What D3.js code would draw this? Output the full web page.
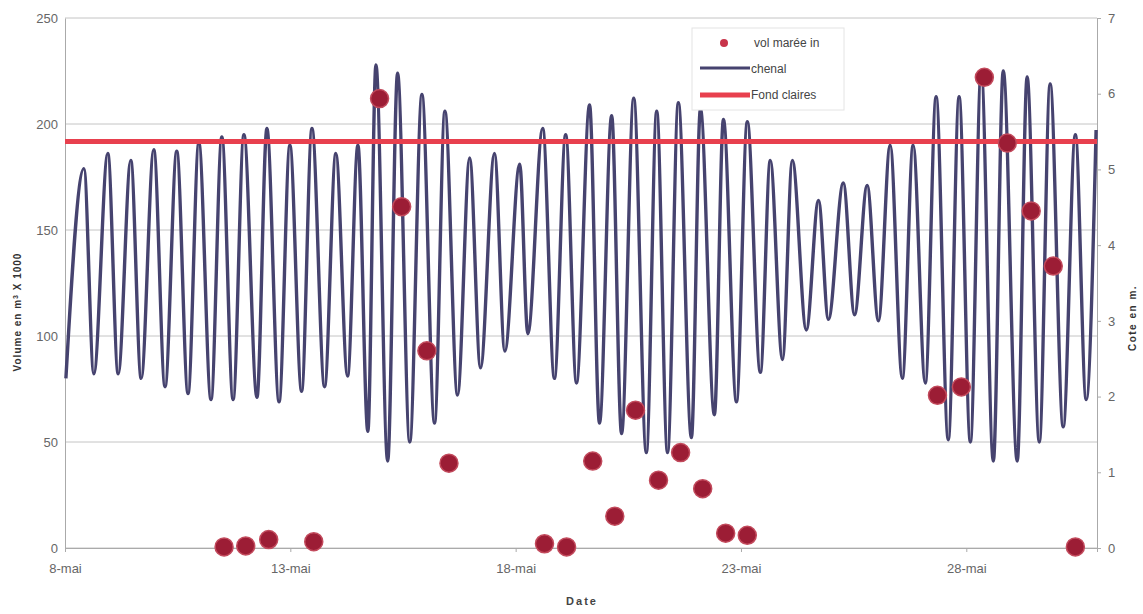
<!DOCTYPE html>
<html>
<head>
<meta charset="utf-8">
<script src="https://cdn.jsdelivr.net/npm/d3@7"></script>
<style>
  body { margin: 0; background: #fff; }
  text { font-family: "Liberation Sans", Arial, sans-serif; }
</style>
</head>
<body>
<div id="chart"></div>
<script>
// jour du mois (mai) des pleines et basses mers
const chenalDays = [
  8.02, 8.42, 8.64, 8.95, 9.18, 9.46, 9.69, 9.97, 10.22, 10.48, 10.73, 10.97,
  11.24, 11.48, 11.73, 11.97, 12.26, 12.48, 12.75, 12.99, 13.25, 13.48, 13.76,
  14.01, 14.27, 14.50, 14.72, 14.90, 15.16, 15.38, 15.65, 15.92, 16.20, 16.43,
  16.71, 16.98, 17.22, 17.53, 17.76, 18.09, 18.27, 18.60, 18.86, 19.11, 19.35,
  19.64, 19.86, 20.13, 20.35, 20.62, 20.90, 21.13, 21.37, 21.61, 21.90, 22.10,
  22.41, 22.61, 22.90, 23.14, 23.43, 23.65, 23.92, 24.14, 24.45, 24.72, 24.94,
  25.27, 25.52, 25.80, 26.05, 26.31, 26.58, 26.82, 27.09, 27.33, 27.60, 27.84,
  28.09, 28.33, 28.60, 28.82, 29.13, 29.35, 29.62, 29.86, 30.15, 30.42, 30.66,
  30.88
];
// cote du chenal (m)
const chenalLevels = [
  2.24, 5.01, 2.30, 5.21, 2.30, 5.12, 2.24, 5.26, 2.13, 5.24, 2.04, 5.35,
  1.96, 5.43, 1.96, 5.46, 1.99, 5.54, 1.93, 5.32, 2.07, 5.54, 2.13,
  5.21, 2.27, 5.32, 1.54, 6.38, 1.15, 6.27, 1.40, 5.99, 1.65, 5.77,
  2.02, 5.15, 2.38, 5.21, 2.60, 5.07, 2.83, 5.54, 2.24, 5.46, 2.18,
  5.85, 1.65, 5.71, 1.51, 5.94, 1.26, 5.77, 1.26, 5.88, 1.46, 5.80,
  1.76, 5.66, 1.93, 5.63, 2.32, 5.12, 2.49, 5.12, 2.88, 4.59, 3.02,
  4.82, 3.08, 4.79, 3.00, 5.32, 2.24, 5.32, 2.18, 5.96, 1.43, 5.96,
  1.40, 6.30, 1.15, 6.30, 1.15, 6.22, 1.40, 6.13, 1.60, 5.46, 1.96,
  5.52
];
// volume de marée entrant (m3 x 1000)
const volDays = [
  11.53, 12.01, 12.52, 13.52, 14.98, 15.47, 16.03, 16.52, 18.64, 19.13, 19.71,
  20.20, 20.66, 21.17, 21.66, 22.15, 22.66, 23.14, 27.36, 27.89, 28.40, 28.91,
  29.44, 29.93, 30.42
];
const volValues = [
  0.5, 1, 4, 3, 212, 161, 93, 40, 2, 0.5, 41,
  15, 65, 32, 45, 28, 7, 6, 72, 76, 222, 191,
  159, 133, 0.5
];
const fondClaires = 5.37; // cote en m
const dateTicks = [8, 13, 18, 23, 28];
const volTicks = [0, 50, 100, 150, 200, 250];
const coteTicks = [0, 1, 2, 3, 4, 5, 6, 7];

const width = 1143;
const height = 614;
const margin = { top: 18, right: 46, bottom: 66, left: 65 };
const innerW = width - margin.left - margin.right;
const innerH = height - margin.top - margin.bottom;

const svg = d3.select('#chart')
  .append('svg')
  .attr('width', width)
  .attr('height', height);

const g = svg.append('g')
  .attr('transform', `translate(${margin.left},${margin.top})`);

const x = d3.scaleLinear().domain([8, 30.9]).range([0, innerW]);
const yVol = d3.scaleLinear().domain([0, 250]).range([innerH, 0]);
const yCote = d3.scaleLinear().domain([0, 7]).range([innerH, 0]);

// grille
g.append('g')
  .selectAll('line')
  .data(volTicks)
  .join('line')
  .attr('x1', 0)
  .attr('x2', innerW)
  .attr('y1', (d) => yVol(d))
  .attr('y2', (d) => yVol(d))
  .attr('stroke', '#c4c4c4')
  .attr('stroke-width', 1);

// axes
const axisLeft = g.append('g')
  .call(d3.axisLeft(yVol).tickValues(volTicks).tickSize(0).tickPadding(7));
const axisRight = g.append('g')
  .attr('transform', `translate(${innerW},0)`)
  .call(d3.axisRight(yCote).tickValues(coteTicks).tickSize(4).tickPadding(7)
    .tickFormat(d3.format('d')));
const axisBottom = g.append('g')
  .attr('transform', `translate(0,${innerH})`)
  .call(d3.axisBottom(x).tickValues(dateTicks).tickSize(4).tickPadding(12)
    .tickFormat((d) => `${d}-mai`));

[axisLeft, axisRight, axisBottom].forEach((a) => {
  a.select('.domain').attr('stroke', '#aaa');
  a.selectAll('.tick line').attr('stroke', '#aaa');
  a.selectAll('text')
    .attr('fill', '#666')
    .style('font-size', '13px');
});
axisBottom.selectAll('text')
  .style('font-family', '"Liberation Sans Narrow", "Liberation Sans", sans-serif');

// ligne chenal
const chenal = chenalDays.map((d, i) => ({ day: d, level: chenalLevels[i] }));
g.append('path')
  .datum(chenal)
  .attr('d', d3.line()
    .x((d) => x(d.day))
    .y((d) => yCote(d.level))
    .curve(d3.curveMonotoneX))
  .attr('fill', 'none')
  .attr('stroke', '#46436f')
  .attr('stroke-width', 3.4)
  .attr('stroke-linejoin', 'round');

// fond claires
g.append('line')
  .attr('x1', 0)
  .attr('x2', innerW)
  .attr('y1', yCote(fondClaires))
  .attr('y2', yCote(fondClaires))
  .attr('stroke', '#e8404e')
  .attr('stroke-width', 5);

// volumes
const vols = volDays.map((d, i) => ({ day: d, v: volValues[i] }));
g.append('g')
  .selectAll('circle')
  .data(vols)
  .join('circle')
  .attr('cx', (d) => x(d.day))
  .attr('cy', (d) => yVol(d.v))
  .attr('r', 9)
  .attr('fill', '#9c1d35')
  .attr('stroke', '#c24a5c')
  .attr('stroke-width', 1.5);

// légende
const legend = svg.append('g').attr('transform', 'translate(692,28)');
legend.append('rect')
  .attr('width', 152)
  .attr('height', 82)
  .attr('fill', '#fff')
  .attr('stroke', '#e4e4e4');
legend.append('circle')
  .attr('cx', 32)
  .attr('cy', 15)
  .attr('r', 4)
  .attr('fill', '#c8344a');
legend.append('line')
  .attr('x1', 8).attr('x2', 58)
  .attr('y1', 40).attr('y2', 40)
  .attr('stroke', '#46436f').attr('stroke-width', 3);
legend.append('line')
  .attr('x1', 8).attr('x2', 58)
  .attr('y1', 67).attr('y2', 67)
  .attr('stroke', '#e8404e').attr('stroke-width', 5);
legend.selectAll('text.lab')
  .data(['vol marée in', 'chenal', 'Fond claires'])
  .join('text')
  .attr('class', 'lab')
  .attr('x', (d, i) => (i === 0 ? 62 : 59))
  .attr('y', (d, i) => 19 + i * 26)
  .attr('fill', '#444')
  .style('font-size', '12px')
  .text((d) => d);

// titres des axes
svg.append('text')
  .attr('transform', 'translate(21,312) rotate(-90)')
  .attr('text-anchor', 'middle')
  .attr('fill', '#333')
  .style('font-size', '10px')
  .style('font-weight', 'bold')
  .style('letter-spacing', '1px')
  .html('Volume en m<tspan baseline-shift="super" font-size="7px">3</tspan> X 1000');
svg.append('text')
  .attr('transform', 'translate(1136,318) rotate(-90)')
  .attr('text-anchor', 'middle')
  .attr('fill', '#333')
  .style('font-size', '10px')
  .style('font-weight', 'bold')
  .style('letter-spacing', '1.5px')
  .text('Cote en m.');
svg.append('text')
  .attr('x', 582)
  .attr('y', 605)
  .attr('text-anchor', 'middle')
  .attr('fill', '#444')
  .style('font-size', '11px')
  .style('font-weight', 'bold')
  .style('letter-spacing', '2px')
  .text('Date');
</script>
</body>
</html>
